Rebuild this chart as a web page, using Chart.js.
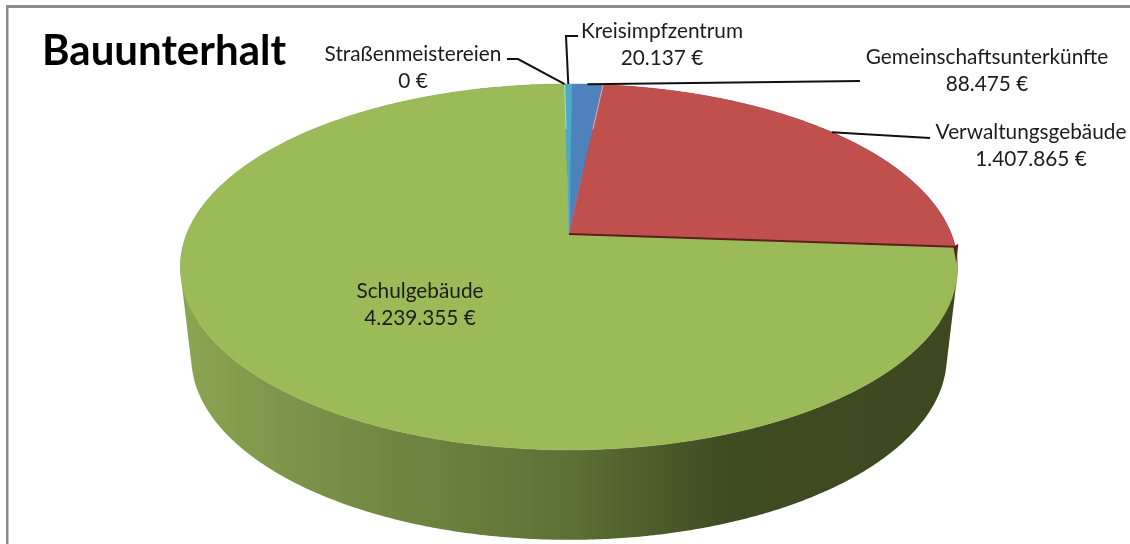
<!DOCTYPE html>
<html lang="de">
<head>
<meta charset="utf-8">
<title>Bauunterhalt</title>
<script src="https://cdn.jsdelivr.net/npm/chart.js@4"></script>
<style>
    html, body { margin: 0; padding: 0; background: #fff; overflow: hidden; }
    canvas { display: block; }
</style>
</head>
<body>
<canvas id="pieChart" width="1130" height="544"></canvas>
<script>
// Chart data, clockwise from the top
const chartTitle = 'Bauunterhalt';
const categories = ['Gemeinschaftsunterkünfte', 'Verwaltungsgebäude', 'Schulgebäude', 'Straßenmeistereien', 'Kreisimpfzentrum'];
const amounts = [88475, 1407865, 4239355, 0, 20137];

const sliceColors = ['#4f81bd', '#c0504d', '#9bbb59', '#8064a2', '#4bacc6'];
const wallColors = ['#2f4d71', '#5c1f1e', null, '#4d3c61', '#2d6776'];

// Label centre and first line position, same order as categories
const labelSpots = [
    { x: 987, y: 57, leader: [[860, 81]] },
    { x: 1031, y: 132, leader: [[930, 138]] },
    { x: 420, y: 291 },
    { x: 413, y: 54, leader: [[518, 59], [507, 59]] },
    { x: 662, y: 31, leader: [[566, 36], [578, 36]] }
];

// Perspective of the tilted disc
const tilt = 0.18;
const stretch = 2.16;
const bottomShift = 90;
const bottomShrink = 0.972;

function project(el, angle, drop, shrink) {
    const X = Math.cos(angle);
    const Y = -Math.sin(angle);
    const w = 1 + tilt * Y;
    return {
        x: el.x + stretch * shrink * el.outerRadius * X / w,
        y: el.y + drop - el.outerRadius * Y / w
    };
}

function rimPoints(el, drop, shrink) {
    const pts = [];
    const steps = Math.max(2, Math.ceil((el.endAngle - el.startAngle) / 0.008));
    for (let i = 0; i <= steps; i++) {
        const a = el.startAngle + (el.endAngle - el.startAngle) * i / steps;
        pts.push(project(el, a, drop, shrink));
    }
    return pts;
}

function addPolygon(ctx, pts) {
    pts.forEach((p, i) => i ? ctx.lineTo(p.x, p.y) : ctx.moveTo(p.x, p.y));
    ctx.closePath();
}

function tracePath(ctx, pts) {
    ctx.beginPath();
    addPolygon(ctx, pts);
}

// Quads must all wind the same way or the nonzero fill cancels where they overlap
function windForward(pts) {
    let area = 0;
    pts.forEach((p, i) => {
        const q = pts[(i + 1) % pts.length];
        area += p.x * q.y - q.x * p.y;
    });
    return area < 0 ? pts.slice().reverse() : pts;
}

// Draws the arcs the library has laid out as a tilted 3D disc
const tiltedPie = {
    id: 'tiltedPie',
    beforeDatasetsDraw(chart) {
        const ctx = chart.ctx;
        const arcs = chart.getDatasetMeta(0).data;

        const wallGradient = ctx.createLinearGradient(180, 0, 958, 0);
        wallGradient.addColorStop(0, '#8aa552');
        wallGradient.addColorStop(0.22, '#748c44');
        wallGradient.addColorStop(0.5, '#5e7136');
        wallGradient.addColorStop(0.7, '#3f4b21');
        wallGradient.addColorStop(1, '#3d4820');

        // Wall is one path of small quads so the sides of the disc stay filled
        arcs.forEach((el, i) => {
            if (el.endAngle <= el.startAngle) return;
            const top = rimPoints(el, 0, 1);
            const bottom = rimPoints(el, bottomShift, bottomShrink);
            ctx.fillStyle = wallColors[i] || wallGradient;
            ctx.beginPath();
            for (let k = 0; k < top.length - 1; k++) {
                addPolygon(ctx, windForward([top[k], top[k + 1], bottom[k + 1], bottom[k]]));
            }
            ctx.fill();
        });

        arcs.forEach((el, i) => {
            if (el.endAngle <= el.startAngle) return;
            ctx.fillStyle = sliceColors[i];
            ctx.strokeStyle = sliceColors[i];
            ctx.lineWidth = 0.5;
            tracePath(ctx, [{ x: el.x, y: el.y }].concat(rimPoints(el, 0, 1)));
            ctx.fill();
            ctx.stroke();
        });

        // Dark cut edge under the red slice, with its small corner on the rim
        const red = arcs[1];
        const redEnd = project(red, red.endAngle, 0, 1);
        ctx.fillStyle = '#5c1f1e';
        tracePath(ctx, [
            { x: redEnd.x - 2, y: redEnd.y },
            { x: redEnd.x + 3, y: redEnd.y - 3 },
            { x: redEnd.x + 1, y: redEnd.y + 16 }
        ]);
        ctx.fill();
        ctx.strokeStyle = '#5c1f1e';
        ctx.lineWidth = 2;
        ctx.beginPath();
        ctx.moveTo(red.x, red.y);
        ctx.lineTo(redEnd.x, redEnd.y);
        ctx.stroke();

        // Thin light seams at the top of the small slices
        ctx.strokeStyle = 'rgba(255,255,255,0.55)';
        ctx.lineWidth = 1;
        [1, 4].forEach(i => {
            const p = project(arcs[i], arcs[i].startAngle, 0, 1);
            ctx.beginPath();
            ctx.moveTo(p.x, p.y);
            ctx.lineTo(p.x + (arcs[i].x - p.x) * 0.3, p.y + (arcs[i].y - p.y) * 0.3);
            ctx.stroke();
        });
        return false;
    },
    afterDraw(chart) {
        const ctx = chart.ctx;
        const arcs = chart.getDatasetMeta(0).data;

        // Frame
        ctx.fillStyle = '#8c8c8c';
        ctx.fillRect(6, 5, 1124, 3);
        ctx.fillRect(6, 5, 2.5, 539);

        ctx.fillStyle = '#000';
        ctx.textAlign = 'left';
        ctx.textBaseline = 'alphabetic';
        ctx.font = 'bold 42px Lato';
        ctx.fillText(chartTitle, 42, 65);

        // Leader lines start on the rim at the middle of each slice
        ctx.strokeStyle = '#111';
        ctx.lineWidth = 2;
        labelSpots.forEach((spot, i) => {
            if (!spot.leader) return;
            const el = arcs[i];
            const start = project(el, (el.startAngle + el.endAngle) / 2, 0, 1);
            ctx.beginPath();
            ctx.moveTo(start.x, start.y);
            spot.leader.forEach(p => ctx.lineTo(p[0], p[1]));
            ctx.stroke();
        });

        ctx.fillStyle = '#1c1c1c';
        ctx.textAlign = 'center';
        ctx.textBaseline = 'middle';
        ctx.font = '20.8px Lato';
        labelSpots.forEach((spot, i) => {
            ctx.fillText(categories[i], spot.x, spot.y);
            ctx.fillText(amounts[i].toLocaleString('de-DE') + ' €', spot.x, spot.y + 27);
        });
    }
};

new Chart(document.getElementById('pieChart'), {
    type: 'pie',
    data: {
        labels: categories,
        datasets: [{
            data: amounts,
            backgroundColor: sliceColors,
            borderWidth: 0
        }]
    },
    options: {
        responsive: false,
        animation: false,
        rotation: 0.5,
        layout: { padding: { left: 392, right: 384, top: 57, bottom: 133 } },
        plugins: {
            legend: { display: false },
            tooltip: { enabled: false }
        }
    },
    plugins: [tiltedPie]
});
</script>
</body>
</html>
